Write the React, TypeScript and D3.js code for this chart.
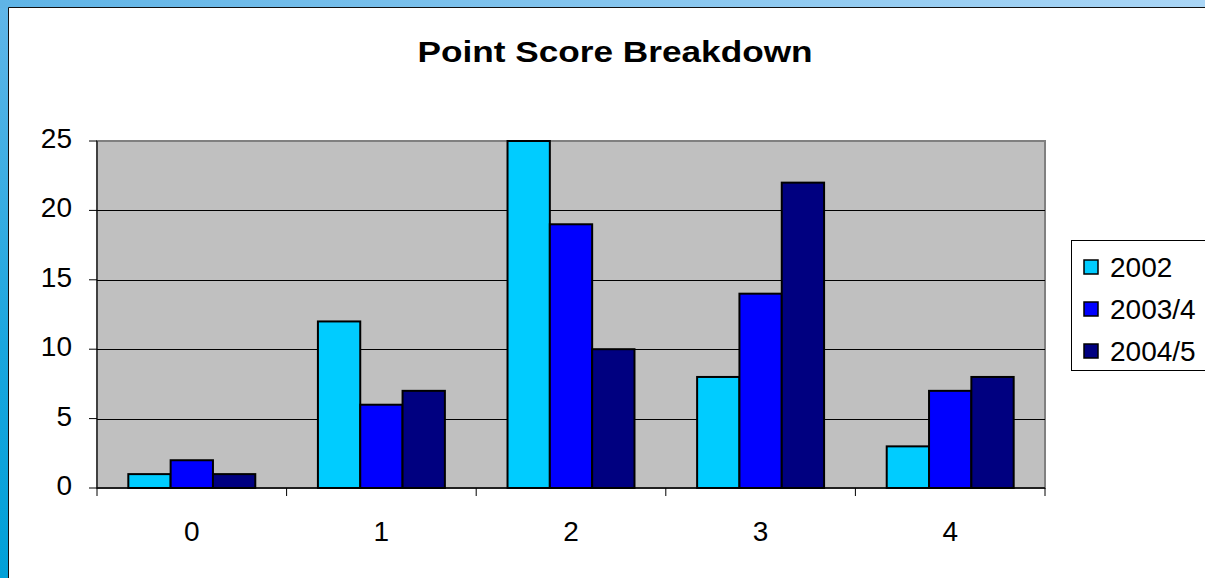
import React from "react";
import * as d3 from "d3";

// chart data
const categories = ["0", "1", "2", "3", "4"];
const seriesNames = ["2002", "2003/4", "2004/5"];
const values2002 = [1, 12, 25, 8, 3];
const values2003 = [2, 6, 19, 14, 7];
const values2004 = [1, 7, 10, 22, 8];
const yTicks = [0, 5, 10, 15, 20, 25];
const colors = ["#00ccff", "#0000ff", "#000080"];

const seriesValues = [values2002, values2003, values2004];

const App = () => {
  const width = 1205;
  const height = 578;
  const plot = { left: 97, right: 1045, top: 141, bottom: 488 };
  const font = "Arial, 'Liberation Sans', sans-serif";

  // scales
  const x0 = d3
    .scaleBand()
    .domain(categories)
    .range([plot.left, plot.right])
    .paddingInner(0)
    .paddingOuter(0);

  const x1 = d3
    .scaleBand()
    .domain(seriesNames)
    .range([0, x0.bandwidth()])
    .paddingInner(0)
    .paddingOuter(0.74);

  const y = d3.scaleLinear().domain([0, 25]).range([plot.bottom, plot.top]);

  // one rect per category and series
  const bars = categories.flatMap((c, i) =>
    seriesNames.map((s, j) => ({ cat: c, series: s, value: seriesValues[j][i], color: colors[j] }))
  );

  const xTickPositions = categories.map((c) => x0(c)).concat([plot.right]);

  return (
    <svg
      width={width}
      height={height}
      style={{ position: "absolute", left: 0, top: 0 }}
      fontFamily={font}
    >
      <defs>
        <linearGradient id="topStrip" x1="0" y1="0" x2="1" y2="0">
          <stop offset="0" stopColor="#5fb4e6" />
          <stop offset="1" stopColor="#aad6f6" />
        </linearGradient>
        <linearGradient id="leftStrip" x1="0" y1="0" x2="0" y2="1">
          <stop offset="0" stopColor="#62b6e8" />
          <stop offset="0.6" stopColor="#1aa6de" />
          <stop offset="1" stopColor="#00a0d8" />
        </linearGradient>
      </defs>

      {/* blue frame */}
      <rect x={0} y={0} width={width} height={height} fill="url(#leftStrip)" />
      <rect x={0} y={0} width={width} height={8} fill="url(#topStrip)" />
      <rect x={9} y={8} width={width} height={height} fill="#ffffff" />
      <line x1={8.5} y1={7.5} x2={8.5} y2={height} stroke="#111" strokeWidth={1} />
      <line x1={8.5} y1={7.5} x2={width} y2={7.5} stroke="#111" strokeWidth={1} />

      {/* title */}
      <text
        x={615}
        y={62}
        textAnchor="middle"
        fontSize={29}
        fontWeight="bold"
        textLength={395}
        lengthAdjust="spacingAndGlyphs"
      >
        Point Score Breakdown
      </text>

      {/* plot area */}
      <rect
        x={plot.left}
        y={plot.top}
        width={plot.right - plot.left}
        height={plot.bottom - plot.top}
        fill="#c0c0c0"
        stroke="#808080"
        strokeWidth={2}
      />

      {/* gridlines */}
      {yTicks
        .filter((t) => t > 0 && t < 25)
        .map((t) => (
          <line
            key={`g${t}`}
            x1={plot.left}
            x2={plot.right}
            y1={Math.round(y(t)) + 0.5}
            y2={Math.round(y(t)) + 0.5}
            stroke="#000"
            strokeWidth={1}
          />
        ))}

      {/* bars */}
      {bars.map((b) => (
        <rect
          key={`${b.cat}-${b.series}`}
          x={(x0(b.cat) as number) + (x1(b.series) as number)}
          y={y(b.value)}
          width={x1.bandwidth()}
          height={y(0) - y(b.value)}
          fill={b.color}
          stroke="#000"
          strokeWidth={2}
        />
      ))}

      {/* y axis */}
      <line x1={plot.left} x2={plot.left} y1={plot.top} y2={plot.bottom} stroke="#000" strokeWidth={1} />
      {yTicks.map((t) => (
        <g key={`y${t}`}>
          <line x1={plot.left - 8} x2={plot.left} y1={y(t)} y2={y(t)} stroke="#000" strokeWidth={1} />
          <text x={72} y={y(t) + 7} textAnchor="end" fontSize={28}>
            {t}
          </text>
        </g>
      ))}

      {/* x axis */}
      <line x1={plot.left} x2={plot.right} y1={plot.bottom} y2={plot.bottom} stroke="#000" strokeWidth={1.5} />
      {xTickPositions.map((p, i) => (
        <line key={`xt${i}`} x1={p} x2={p} y1={plot.bottom} y2={plot.bottom + 8} stroke="#000" strokeWidth={1} />
      ))}
      {categories.map((c) => (
        <text
          key={`xl${c}`}
          x={(x0(c) as number) + x0.bandwidth() / 2}
          y={541}
          textAnchor="middle"
          fontSize={28}
        >
          {c}
        </text>
      ))}

      {/* legend */}
      <rect x={1071.5} y={240.5} width={200} height={130} fill="#ffffff" stroke="#000" strokeWidth={1} />
      {seriesNames.map((s, j) => (
        <g key={`l${s}`} transform={`translate(1084, ${260 + j * 42})`}>
          <rect x={0} y={0} width={14} height={14} fill={colors[j]} stroke="#000" strokeWidth={1.5} />
          <text x={26} y={17} fontSize={28}>
            {s}
          </text>
        </g>
      ))}
    </svg>
  );
};

export default App;
